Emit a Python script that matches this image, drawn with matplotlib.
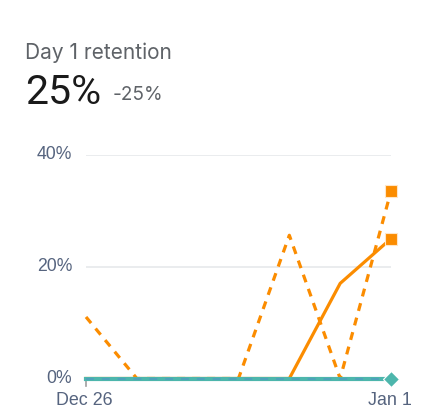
import matplotlib
matplotlib.use("Agg")
import matplotlib.pyplot as plt
from matplotlib.transforms import ScaledTranslation

# Daily values, Dec 26 to Jan 1
days = ["Dec 26", "Dec 27", "Dec 28", "Dec 29", "Dec 30", "Dec 31", "Jan 1"]
current = [0, 0, 0, 0, 0, 17, 25]
previous = [11, 0, 0, 0, 25.6, 0, 33.5]
baseline = [0, 0, 0, 0, 0, 0, 0]
baseline_prev = [0, 0, 0, 0, 0, 0, 0]
y_ticks = [0, 20, 40]
y_labels = ["0%", "20%", "40%"]

W, H = 438, 413
ORANGE = "#fb8c00"
TEAL = "#4db6ac"
BLUE = "#4f9cc0"
AXIS_TEXT = "#56647f"

fig = plt.figure(figsize=(W / 100, H / 100), dpi=100)
ax = fig.add_axes([86 / W, (H - 378.5) / H, (391 - 86) / W, (378.5 - 154.7) / H])

x = list(range(len(days)))

ax.plot(x, previous, color=ORANGE, lw=2.3, dashes=(2.5, 2.2), clip_on=False, zorder=3)
ax.plot(x, current, color=ORANGE, lw=2.3, clip_on=False, zorder=3)
ax.plot(x, baseline, color=TEAL, lw=3, clip_on=False, zorder=4)
ax.plot(x, baseline_prev, color=BLUE, lw=1.5, dashes=(3.8, 3.8), alpha=0.75, clip_on=False, zorder=5)

# end markers
ax.plot(x[-1], previous[-1], "s", color=ORANGE, ms=8.2, mec="#ffe6c7", mew=0.8, clip_on=False, zorder=6)
ax.plot(x[-1], current[-1], "s", color=ORANGE, ms=8.2, mec="#ffe6c7", mew=0.8, clip_on=False, zorder=6)
ax.plot(x[-1], baseline[-1], "D", color=TEAL, ms=8, mec="white", mew=0.8, clip_on=False, zorder=6)

ax.set_xlim(0, len(days) - 1)
ax.set_ylim(0, 40)
ax.set_yticks(y_ticks)
ax.set_yticklabels(y_labels, family="Liberation Sans", fontsize=12.7, color=AXIS_TEXT)
ax.set_xticks([0, len(days) - 1])
ax.set_xticklabels([days[0], days[-1]], family="Liberation Sans", fontsize=12.9, color=AXIS_TEXT)
ax.grid(axis="y", color="#e8eaed", lw=1.3)
ax.set_axisbelow(True)
ax.tick_params(axis="y", length=0, pad=10)
ax.tick_params(axis="x", length=0, pad=9.5)
for side in ax.spines:
    ax.spines[side].set_visible(False)

# y labels sit a little above their gridlines, x labels slightly left
shift = ScaledTranslation(0, 2 / 100, fig.dpi_scale_trans)
for label in ax.get_yticklabels():
    label.set_transform(label.get_transform() + shift)
shift_x = ScaledTranslation(-1.3 / 100, 0, fig.dpi_scale_trans)
for label in ax.get_xticklabels():
    label.set_transform(label.get_transform() + shift_x)

# short tick under the first day
ax.plot([0, 0], [0, -1.4], color="#9e9e9e", lw=1.2, clip_on=False, zorder=2)

fig.text(25 / W, 1 - 53 / H, "Day 1 retention", family="Inter", fontsize=15, color="#5f6368",
         va="center", ha="left")
fig.text(25 / W, 1 - 92.5 / H, "25%", family="Roboto", fontsize=29.5, color="#1a1a1a",
         va="center", ha="left")
fig.text(113 / W, 1 - 95 / H, "-25%", family="Inter", fontsize=13.7, color="#5f6368",
         va="center", ha="left")

fig.savefig("out.png", dpi=100)
